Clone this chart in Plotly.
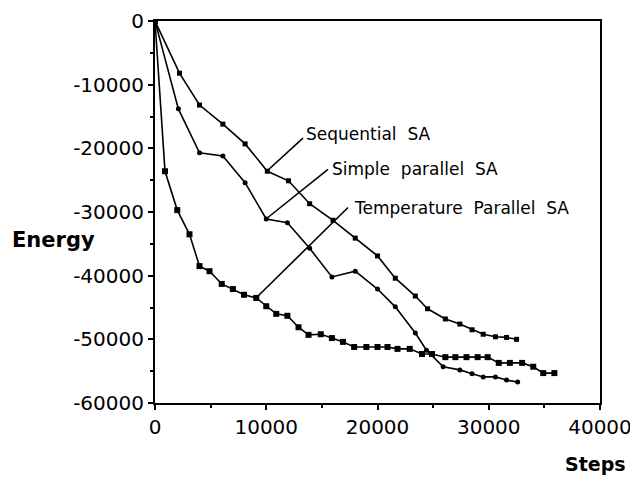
import plotly.graph_objects as go

# ---- data ----
seq_steps = [0, 2200, 4000, 6100, 8100, 10100, 12000, 13900, 16000, 18000, 20000,
             21600, 23400, 24500, 26100, 27400, 28500, 29500, 30600, 31600, 32500]
seq_energy = [0, -8200, -13200, -16200, -19300, -23600, -25100, -28700, -31300, -34100, -36900,
              -40400, -43200, -45200, -46800, -47600, -48500, -49200, -49600, -49700, -50000]

sim_steps = [0, 2100, 4000, 6100, 8100, 10000, 11900, 13900, 15900, 18000, 20000,
             21600, 23400, 24400, 25900, 27400, 28500, 29500, 30600, 31600, 32600]
sim_energy = [0, -13800, -20700, -21200, -25400, -31100, -31700, -35700, -40200, -39300, -42100,
              -44900, -49000, -51700, -54300, -54800, -55400, -55900, -55900, -56400, -56700]

tmp_steps = [0, 900, 2000, 3100, 4000, 4900, 6000, 7000, 8000, 9100, 10000, 10900, 11900,
             12900, 13800, 14900, 15900, 16900, 17900, 19000, 20000, 20900, 21800, 22900,
             24000, 24900, 26100, 27000, 28000, 29000, 29900, 30900, 31900, 33000, 34000,
             34900, 35900]
tmp_energy = [0, -23600, -29700, -33500, -38500, -39300, -41300, -42100, -43000, -43500, -44800,
              -46000, -46300, -48100, -49300, -49200, -49800, -50400, -51200, -51200, -51200,
              -51200, -51500, -51500, -52300, -52300, -52800, -52800, -52800, -52800, -52800,
              -53700, -53700, -53700, -54300, -55300, -55300]

labels = ["Sequential  SA", "Simple  parallel  SA", "Temperature  Parallel  SA"]
# pointer line: from a curve point to the label
ptr_x0 = [10067, 9978, 9079]
ptr_y0 = [-23560, -31099, -43508]
ptr_x1 = [13300, 15550, 17350]
ptr_y1 = [-18400, -23300, -29300]
lab_x = [13400, 15700, 17750]
lab_y = [-17700, -23200, -29300]

x_ticks = [0, 10000, 20000, 30000, 40000]
y_ticks = [0, -10000, -20000, -30000, -40000, -50000, -60000]

fig = go.Figure()
line = dict(color="black", width=1.6)
fig.add_trace(go.Scatter(x=seq_steps, y=seq_energy, mode="lines+markers", line=line,
                         marker=dict(symbol="square", size=5, color="black")))
fig.add_trace(go.Scatter(x=sim_steps, y=sim_energy, mode="lines+markers", line=line,
                         marker=dict(symbol="circle", size=5, color="black")))
fig.add_trace(go.Scatter(x=tmp_steps, y=tmp_energy, mode="lines+markers", line=line,
                         marker=dict(symbol="square", size=6, color="black")))

for i in range(len(labels)):
    fig.add_shape(type="line", xref="x", yref="y", x0=ptr_x0[i], y0=ptr_y0[i],
                  x1=ptr_x1[i], y1=ptr_y1[i], line=dict(color="black", width=1.6))
    fig.add_annotation(x=lab_x[i], y=lab_y[i], xref="x", yref="y", text=labels[i],
                       showarrow=False, xanchor="left", yanchor="middle",
                       font=dict(family="DejaVu Sans", size=17, color="black"))

fig.add_annotation(x=-0.229, y=0.427, xref="paper", yref="paper", text="<b>Energy</b>",
                   showarrow=False, xanchor="center", yanchor="middle",
                   font=dict(family="DejaVu Sans", size=21, color="black"))
fig.add_annotation(x=0.99, y=-0.160, xref="paper", yref="paper", text="<b>Steps</b>",
                   showarrow=False, xanchor="center", yanchor="middle",
                   font=dict(family="DejaVu Sans", size=19, color="black"))

axis_common = dict(showgrid=False, zeroline=False, showline=True, linecolor="black",
                   linewidth=2, mirror=True, ticks="outside", ticklen=5, tickwidth=1.5,
                   tickcolor="black", automargin=False,
                   tickfont=dict(family="DejaVu Sans", size=20, color="black"),
                   minor=dict(ticks="outside", ticklen=3, tickcolor="black", dtick=5000))
fig.update_xaxes(range=[0, 40000], tickvals=x_ticks, ticktext=[str(v) for v in x_ticks],
                 **axis_common)
fig.update_yaxes(range=[-60000, 0], tickvals=y_ticks, ticktext=[str(v) for v in y_ticks],
                 **axis_common)

# the page body adds an 8 px offset, so the figure is sized to end at the window edge
fig.update_layout(width=630, height=469, showlegend=False,
                  plot_bgcolor="white", paper_bgcolor="white",
                  margin=dict(l=147, r=38, t=13, b=74, autoexpand=False))
fig.write_html("out.html")
